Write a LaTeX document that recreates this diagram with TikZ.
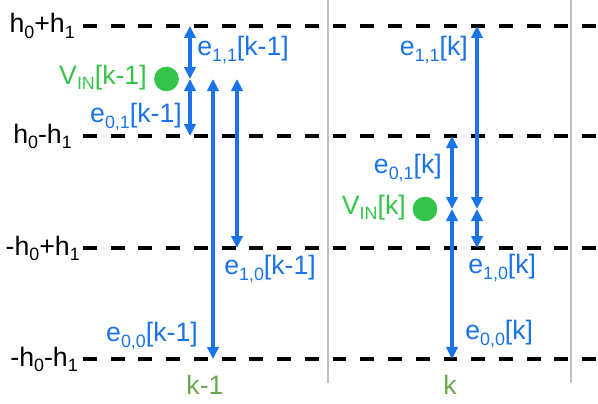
\documentclass[tikz,border=0pt]{standalone}
\usepackage{fontspec}
\setmainfont{Liberation Sans}
\usepackage{xcolor}
\usetikzlibrary{arrows.meta,positioning}
\definecolor{eblue}{RGB}{26,115,232}
\definecolor{vgreen}{RGB}{52,196,74}
\definecolor{kgreen}{RGB}{106,168,79}
\newcommand\sbs[1]{\raisebox{-3.8pt}{\fontsize{13.4}{14}\selectfont#1}}

\begin{document}
\begin{tikzpicture}[x=0.75pt,y=-0.75pt,
  every node/.style={font=\fontsize{20}{22}\selectfont,inner sep=0pt},
  lvl/.style={line width=2.4pt,dash pattern=on 10.4pt off 10.4pt},
  sep/.style={black!25,line width=1.5pt},
  e/.style={eblue,line width=2.5pt,{Triangle[length=9pt,width=8.5pt]}-{Triangle[length=9pt,width=8.5pt]}},
  el/.style={text=eblue},
  vl/.style={text=vgreen},
  dot/.style={circle,fill=vgreen,minimum size=18.5pt}]
 \useasboundingbox (0,0) rectangle (598,403);
 % column separators and levels
 \draw[sep] (328,0) -- (328,383); \draw[sep] (571,0) -- (571,383);
 \foreach \y in {26,136,248,359} \draw[lvl] (83,\y) -- (598,\y);
 \node[anchor=base east] (hpp) at (75,33) {h\sbs{0}+h\sbs{1}};
 \node[anchor=base east] (hpm) at (72,143) {h\sbs{0}-h\sbs{1}};
 \node[anchor=base east] (hmp) at (80,255) {-h\sbs{0}+h\sbs{1}};
 \node[anchor=base east] (hmm) at (78,366) {-h\sbs{0}-h\sbs{1}};
 % sample k-1
 \node[dot] (vp) at (166.5,79) {};
 \node[vl,anchor=east] (vpl) at (147,78) {V\sbs{IN}[k-1]};
 \coordinate (p11t) at (190,26); \coordinate (p11b) at (190,79);
 \coordinate (p01b) at (190,136);
 \coordinate (p00t) at (213,79); \coordinate (p00b) at (213,359);
 \coordinate (p10t) at (237,79); \coordinate (p10b) at (237,248);
 \draw[e] (p11t) -- (p11b); \draw[e] (p11b) -- (p01b);
 \draw[e] (p00t) -- (p00b); \draw[e] (p10t) -- (p10b);
 \node[el,anchor=west] (p11l) at (197,50) {e\sbs{1,1}[k-1]};
 \node[el,anchor=east] (p01l) at (182,117) {e\sbs{0,1}[k-1]};
 \node[el,anchor=west] (p10l) at (224,269) {e\sbs{1,0}[k-1]};
 \node[el,anchor=east] (p00l) at (198,336) {e\sbs{0,0}[k-1]};
 \node[text=kgreen] (kp) at (205,385) {k-1};
 % sample k
 \node[dot] (vk) at (425,209) {};
 \node[vl,anchor=east] (vkl) at (406,208) {V\sbs{IN}[k]};
 \coordinate (c11t) at (477,26); \coordinate (c11b) at (477,209);
 \coordinate (c01t) at (452,136); \coordinate (c01b) at (452,209);
 \coordinate (c10b) at (477,248);
 \coordinate (c00b) at (452,359);
 \draw[e] (c11t) -- (c11b); \draw[e] (c01t) -- (c01b);
 \draw[e] (c11b) -- (c10b); \draw[e] (c01b) -- (c00b);
 \node[el,anchor=east] (c11l) at (468,50) {e\sbs{1,1}[k]};
 \node[el,anchor=east] (c01l) at (442,168) {e\sbs{0,1}[k]};
 \node[el,anchor=west] (c10l) at (468,268) {e\sbs{1,0}[k]};
 \node[el,anchor=west] (c00l) at (465,334) {e\sbs{0,0}[k]};
 \node[text=kgreen] (kk) at (450,385) {k};
\end{tikzpicture}
\end{document}
